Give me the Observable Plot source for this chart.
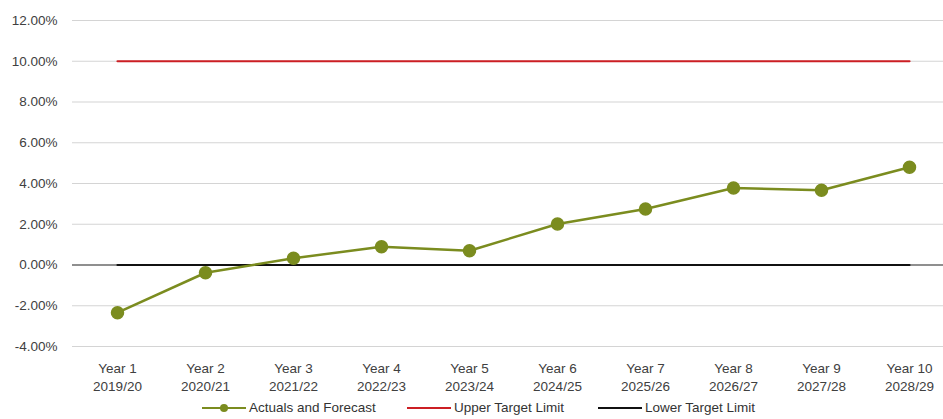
<!DOCTYPE html>
<html><head><meta charset="utf-8">
<script src="https://cdn.jsdelivr.net/npm/d3@7"></script>
<script src="https://cdn.jsdelivr.net/npm/@observablehq/plot@0.6"></script>
<style>
body{margin:0;background:#fff;font-family:"Liberation Sans",Arial,sans-serif;}
#legend{position:relative;height:24px;font-size:13.5px;color:#333;}
.item{display:flex;align-items:center;position:absolute;top:5px;}
</style></head>
<body><div id="chart"></div><div id="legend"></div>
<script>
const years = ["Year 1","Year 2","Year 3","Year 4","Year 5","Year 6","Year 7","Year 8","Year 9","Year 10"];
const periods = ["2019/20","2020/21","2021/22","2022/23","2023/24","2024/25","2025/26","2026/27","2027/28","2028/29"];
const actuals = [-2.34, -0.38, 0.33, 0.90, 0.70, 2.01, 2.75, 3.78, 3.67, 4.80];
const upperLimit = [10,10,10,10,10,10,10,10,10,10];
const lowerLimit = [0,0,0,0,0,0,0,0,0,0];
const yTicks = [-4,-2,0,2,4,6,8,10,12];

const GREEN = "#7b8c1f", RED = "#cc1f24", BLACK = "#111";
const labels = years.map((y,i)=>y+"\n"+periods[i]);
const rows = labels.map((l,i)=>({x:l, a:actuals[i], u:upperLimit[i], lo:lowerLimit[i]}));

const plot = Plot.plot({
  width: 943, height: 395,
  marginLeft: 72, marginRight: 0, marginTop: 20, marginBottom: 49,
  style: {fontFamily: '"Liberation Sans",Arial,sans-serif', fontSize: "13.5px", color: "#404040"},
  x: {type: "point", domain: labels, range: [116, 910], padding: 0},
  y: {domain: [-4, 12]},
  marks: [
    Plot.gridY(yTicks, {stroke: "#d4d4d4", strokeOpacity: 1, strokeWidth: 1.2}),
    Plot.ruleY([0], {stroke: "#707070", strokeWidth: 1.6}),
    Plot.axisY({ticks: yTicks, tickSize: 0, tickPadding: 15, tickFormat: d => d.toFixed(2) + "%", label: null, fill: "#404040"}),
    Plot.axisX({tickSize: 0, tickPadding: 14, label: null, lineHeight: 1.3, fill: "#404040"}),
    Plot.lineY(rows, {x: "x", y: "u", stroke: RED, strokeWidth: 2.2}),
    Plot.lineY(rows, {x: "x", y: "lo", stroke: BLACK, strokeWidth: 2.2}),
    Plot.lineY(rows, {x: "x", y: "a", stroke: GREEN, strokeWidth: 2.5}),
    Plot.dot(rows, {x: "x", y: "a", r: 6, fill: GREEN, stroke: GREEN})
  ]
});
document.getElementById("chart").append(plot);

const legendItems = [
  {label: "Actuals and Forecast", color: GREEN, marker: true, left: 202},
  {label: "Upper Target Limit", color: RED, marker: false, left: 407},
  {label: "Lower Target Limit", color: BLACK, marker: false, left: 598}
];
const lg = document.getElementById("legend");
for (const it of legendItems) {
  const d = document.createElement("div");
  d.className = "item";
  d.style.left = it.left + "px";
  d.innerHTML = `<svg width="44" height="12" style="margin-right:3px"><line x1="0" y1="6" x2="44" y2="6" stroke="${it.color}" stroke-width="2.2"/>${it.marker ? `<circle cx="22" cy="6" r="4" fill="${it.color}"/>` : ""}</svg><span>${it.label}</span>`;
  lg.append(d);
}
</script></body></html>
